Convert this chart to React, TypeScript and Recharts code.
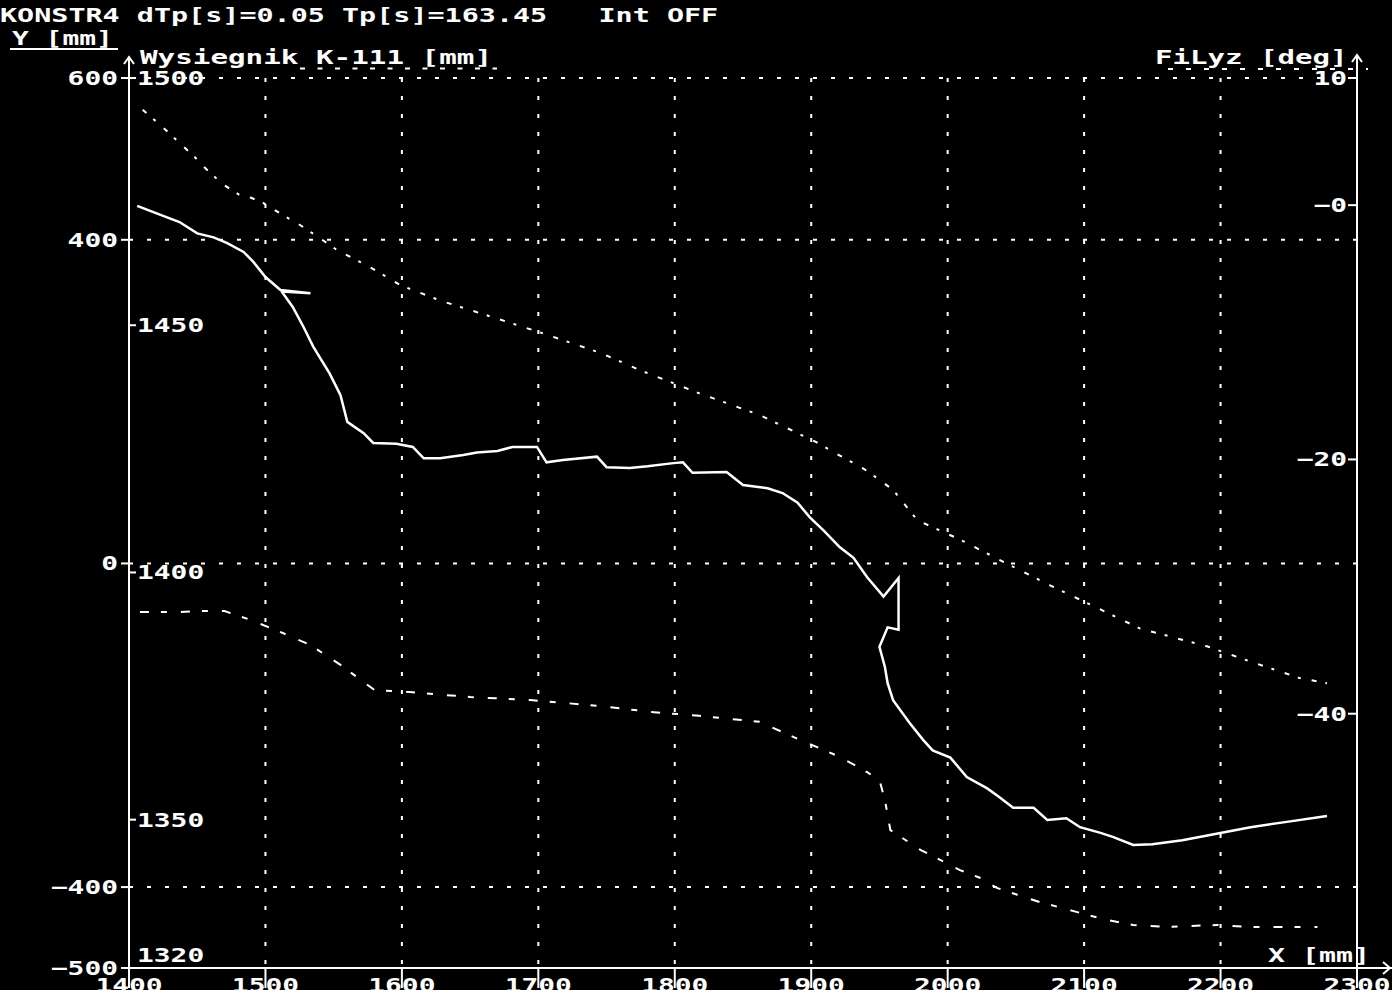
import React from 'react';
import { LineChart, Line, XAxis, YAxis, CartesianGrid } from 'recharts';

// axis ticks
const xTicks = [1400, 1500, 1600, 1700, 1800, 1900, 2000, 2100, 2200, 2300];
const yTicks = [600, 400, 0, -400, -500];
const boomTicks = [1500, 1450, 1400, 1350, 1320];
const filyzTicks = [10, 0, -20, -40];

// Y [mm] vs X (thick trace)
const profileX = [
  1406, 1415, 1426, 1437, 1450, 1462, 1472, 1484, 1491, 1500, 1511, 1533, 1512, 1520, 1528,
  1535, 1547, 1555, 1560, 1572, 1579, 1596, 1608, 1616, 1628, 1645, 1655, 1670, 1681, 1699,
  1706, 1718, 1743, 1750, 1767, 1780, 1799, 1806, 1813, 1838, 1850, 1868, 1879, 1890, 1899,
  1909, 1921, 1931, 1941, 1953, 1964, 1964, 1956, 1950, 1954, 1956, 1960, 1972, 1982, 1989,
  2002, 2014, 2029, 2038, 2048, 2063, 2073, 2087, 2097, 2112, 2121, 2136, 2150, 2172, 2197,
  2222, 2246, 2278,
];
const profileY = [
  442, 436, 429, 422, 408, 403, 396, 385, 373, 354, 338, 334, 336, 317, 292,
  268, 235, 208, 175, 161, 149, 148, 144, 130, 130, 134, 137, 139, 144, 144,
  125, 128, 132, 119, 118, 120, 124, 125, 112, 113, 97, 93, 87, 75, 57,
  41, 20, 7, -17, -41, -18, -82, -79, -103, -128, -148, -169, -197, -218, -231,
  -240, -264, -278, -289, -302, -302, -317, -315, -326, -333, -338, -348, -347, -342, -334,
  -326, -320, -312,
];

// FiLyz [deg] vs X (upper sparse trace)
const filyzX = [
  1410, 1423, 1435, 1448, 1456, 1468, 1481, 1489, 1498, 1513, 1523, 1540, 1552, 1577, 1599,
  1628, 1672, 1701, 1745, 1775, 1818, 1862, 1903, 1921, 1938, 1950, 1960, 1978, 2009, 2038,
  2075, 2112, 2141, 2190, 2222, 2258, 2278,
];
const filyzDeg = [
  7.5, 6.3, 5.1, 3.8, 2.9, 1.7, 0.8, 0.6, 0.2, -0.8, -1.4, -2.6, -3.5, -4.9, -6.3,
  -7.5, -9.0, -10.0, -11.6, -13.0, -14.8, -16.5, -18.6, -19.7, -20.7, -21.6, -22.4, -24.8, -26.3, -27.9,
  -29.9, -31.8, -33.3, -34.7, -35.9, -37.2, -37.6,
];

// Wysiegnik K-111 [mm] vs X (lower sparse trace)
const boomX = [
  1408, 1437, 1450, 1470, 1489, 1514, 1533, 1555, 1580, 1606, 1650, 1694, 1745, 1782, 1818,
  1862, 1892, 1921, 1941, 1950, 1954, 1958, 1980, 2009, 2024, 2036, 2051, 2068, 2095, 2114,
  2136, 2161, 2197, 2222, 2271,
];
const boomMm = [
  1392.0, 1392.0, 1392.2, 1392.2, 1390.4, 1387.6, 1385.3, 1381.3, 1376.2, 1375.8, 1374.8, 1374.2, 1373.0, 1371.8, 1371.0,
  1369.8, 1366.1, 1362.7, 1359.6, 1358.0, 1354.0, 1347.9, 1343.9, 1339.8, 1338.2, 1336.2, 1334.8, 1333.3, 1331.3, 1329.9,
  1328.7, 1328.3, 1328.7, 1328.3, 1328.3,
];

const zip = (xs: number[], vs: number[]) => xs.map((x, i) => ({ x, v: vs[i] }));
const profileData = zip(profileX, profileY);
const filyzData = zip(filyzX, filyzDeg);
const boomData = zip(boomX, boomMm);

const FONT = '"DejaVu Sans Mono", monospace';
const W = '#ffffff';

const fmt = (v: number) => (v < 0 ? '\u2212' + Math.abs(v) : String(v));

function BitText({ x, y, text, anchor = 'start', cw = 16.8 }: any) {
  return (
    <text
      x={x}
      y={y}
      fill={W}
      fontFamily={FONT}
      fontWeight="bold"
      fontSize={20}
      textAnchor={anchor}
      textLength={text.length * cw}
      lengthAdjust="spacingAndGlyphs"
      style={{ whiteSpace: 'pre' }}
    >
      {text}
    </text>
  );
}

const LeftTick = (p: any) => <BitText x={p.x} y={p.y + 7} text={fmt(p.payload.value)} anchor="end" />;
const BoomTick = (p: any) => (
  <BitText x={p.x} y={p.y + 7 + (p.payload.value === 1320 ? -13 : 0)} text={String(p.payload.value)} />
);
const RightTick = (p: any) => (
  <BitText x={p.x} y={p.y + 7} text={p.payload.value === 0 ? '\u22120' : fmt(p.payload.value)} anchor="end" />
);
const BottomTick = (p: any) => <BitText x={p.x} y={p.y + 4} text={String(p.payload.value)} anchor="middle" />;

export default function App() {
  return (
    <div style={{ position: 'absolute', left: 0, top: 0, width: 1392, height: 990, background: '#000', overflow: 'hidden' }}>
      <style>{`body{margin:0;background:#000}`}</style>
      <LineChart width={1392} height={990} margin={{ top: 78, right: 35, bottom: 21, left: 128 }}>
        <CartesianGrid
          xAxisId="x"
          yAxisId="y"
          stroke={W}
          strokeWidth={2}
          strokeDasharray="4 14"
        />
        <XAxis
          xAxisId="x"
          dataKey="x"
          type="number"
          domain={[1400, 2300]}
          ticks={xTicks}
          interval={0}
          height={1}
          tickSize={20}
          tickMargin={0}
          axisLine={{ stroke: W, strokeWidth: 2 }}
          tickLine={{ stroke: W, strokeWidth: 2 }}
          tick={BottomTick}
          allowDataOverflow
        />
        <YAxis
          yAxisId="y"
          type="number"
          domain={[-500, 600]}
          ticks={yTicks}
          interval={0}
          width={1}
          tickSize={8}
          tickMargin={3}
          axisLine={{ stroke: W, strokeWidth: 2 }}
          tickLine={{ stroke: W, strokeWidth: 2 }}
          tick={LeftTick}
          allowDataOverflow
        />
        <YAxis
          yAxisId="w"
          type="number"
          domain={[1320, 1500]}
          ticks={boomTicks}
          interval={0}
          width={1}
          mirror
          tickSize={7}
          tickMargin={1}
          axisLine={false}
          tickLine={{ stroke: W, strokeWidth: 2 }}
          tick={BoomTick}
          allowDataOverflow
        />
        <YAxis
          yAxisId="f"
          orientation="right"
          type="number"
          domain={[-60, 10]}
          ticks={filyzTicks}
          interval={0}
          width={1}
          mirror
          tickSize={9}
          tickMargin={1}
          axisLine={{ stroke: W, strokeWidth: 2 }}
          tickLine={{ stroke: W, strokeWidth: 2 }}
          tick={RightTick}
          allowDataOverflow
        />
        <Line
          xAxisId="x"
          yAxisId="f"
          data={filyzData}
          dataKey="v"
          type="linear"
          stroke={W}
          strokeWidth={2}
          strokeDasharray="5 9 3 11"
          dot={false}
          isAnimationActive={false}
        />
        <Line
          xAxisId="x"
          yAxisId="w"
          data={boomData}
          dataKey="v"
          type="linear"
          stroke={W}
          strokeWidth={2}
          strokeDasharray="9 12 6 14"
          dot={false}
          isAnimationActive={false}
        />
        <Line
          xAxisId="x"
          yAxisId="y"
          data={profileData}
          dataKey="v"
          type="linear"
          stroke={W}
          strokeWidth={2.5}
          dot={false}
          isAnimationActive={false}
        />
      </LineChart>

      {/* titles and axis arrows */}
      <svg width={1392} height={990} style={{ position: 'absolute', left: 0, top: 0, pointerEvents: 'none' }}>
        <BitText x={0} y={22} text="KONSTR4 dTp[s]=0.05 Tp[s]=163.45   Int OFF" cw={17.1} />
        <BitText x={12} y={45} text="Y [mm]" />
        <rect x={10} y={48} width={108} height={2} fill={W} />
        <BitText x={140} y={64} text="Wysiegnik K-111 [mm]" cw={17.6} />
        <line x1={300} x2={497} y1={68.5} y2={68.5} stroke={W} strokeWidth={2} strokeDasharray="5 12.5" />
        <BitText x={1155} y={64} text="FiLyz [deg]" cw={17.5} />
        <line x1={1168} x2={1368} y1={69} y2={69} stroke={W} strokeWidth={2} strokeDasharray="5 13" />
        <BitText x={1268} y={962} text="X [mm]" cw={17} />

        <line x1={129} x2={129} y1={57} y2={79} stroke={W} strokeWidth={2} />
        <polyline points="124,64 129,57 134,64" fill="none" stroke={W} strokeWidth={2} />
        <line x1={1357} x2={1357} y1={55} y2={79} stroke={W} strokeWidth={2} />
        <polyline points="1352,62 1357,55 1362,62" fill="none" stroke={W} strokeWidth={2} />
        <line x1={1356} x2={1392} y1={968} y2={968} stroke={W} strokeWidth={2} />
        <polyline points="1383,962 1390,968 1383,974" fill="none" stroke={W} strokeWidth={2} />
      </svg>
    </div>
  );
}
